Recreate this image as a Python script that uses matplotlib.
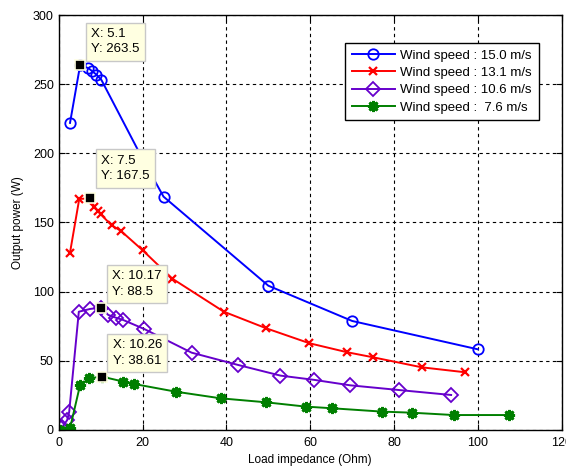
import numpy as np
import matplotlib
matplotlib.use("Agg")
import matplotlib.pyplot as plt

# load impedance (Ohm) / output power (W)
x_150 = [2.7, 5.1, 7.1, 8.0, 9.0, 10.2, 20.0, 25.0, 50.0, 70.0, 100.0]
p_150 = [222, 263.5, 261.6, 259.3, 256.9, 253, 196, 168.7, 104.3, 78.8, 58.3]

x_131 = [2.7, 4.9, 7.5, 8.5, 9.3, 10.0, 12.6, 14.8, 20.0, 27.1, 39.4, 49.5, 59.8, 68.8, 74.9, 86.6, 97.0]
p_131 = [128.2, 167, 167.5, 161.5, 158.5, 156, 148, 144, 130, 109.4, 85.5, 73.5, 62.7, 56.2, 52.6, 45.3, 41.7]

x_106 = [0.8, 2.0, 2.5, 4.8, 7.5, 10.17, 11.8, 13.6, 15.4, 20.4, 31.7, 42.8, 52.9, 61.0, 69.5, 81.1, 93.6]
p_106 = [2, 7, 13, 85.5, 87.5, 88.5, 83.2, 81.2, 79.5, 73, 55.9, 47, 39.3, 36.2, 32.3, 28.9, 25.3]

x_76 = [0.3, 2.7, 5.1, 7.3, 10.26, 15.4, 17.9, 27.9, 38.6, 49.5, 58.9, 65.2, 77.0, 84.2, 94.2, 107.5]
p_76 = [0, 1.2, 32.5, 37.4, 38.61, 35, 33.3, 27.7, 22.9, 20, 16.9, 15.7, 13.3, 12.5, 10.8, 10.8]

tip_x = [5.1, 7.5, 10.17, 10.26]
tip_y = [263.5, 167.5, 88.5, 38.61]
tip_dy = [5, 11, 5, 5]

plt.rcParams['font.family'] = ['Liberation Sans', 'DejaVu Sans']
plt.rcParams['font.size'] = 9

fig = plt.figure(figsize=(5.66, 4.66), dpi=100)
ax = fig.add_axes([0.1037, 0.0773, 0.8889, 0.8905])

ax.plot(x_150, p_150, color='#0000ff', lw=1.4, marker='o', ms=7.5, mfc='none', mew=1.3,
        label='Wind speed : 15.0 m/s')
ax.plot(x_131, p_131, color='#ff0000', lw=1.4, marker='x', ms=5.5, mew=1.6,
        label='Wind speed : 13.1 m/s')
ax.plot(x_106, p_106, color='#6600cc', lw=1.4, marker='D', ms=7, mfc='none', mew=1.3,
        label='Wind speed : 10.6 m/s')
ax.plot(x_76, p_76, color='#007f00', lw=1.4, marker=(8, 2, 0), ms=8, mew=2.0,
        label='Wind speed :  7.6 m/s')

# data tips like matlab
for tx, ty, dy in zip(tip_x, tip_y, tip_dy):
    ax.plot(tx, ty, 's', color='black', ms=7, mec='#ffffe1', mew=1.2, zorder=10)
    ax.annotate("X: %s\nY: %s" % (tx, ty), xy=(tx, ty), xytext=(11, dy + 5),
                textcoords='offset pixels', ha='left', va='bottom', fontsize=9.5,
                linespacing=1.4, zorder=11,
                bbox=dict(boxstyle='square,pad=0.4', fc='#ffffe1', ec='#c8c8c8', lw=1))

ax.set_xlim(0, 120)
ax.set_ylim(0, 300)
ax.set_xticks(np.arange(0, 121, 20))
ax.set_yticks(np.arange(0, 301, 50))
ax.grid(True, color='black', linestyle=(0, (3, 3)), linewidth=0.8)
ax.tick_params(direction='in', top=True, right=True, length=4, labelsize=9)
ax.tick_params(axis='x', pad=5)
for s in ax.spines.values():
    s.set_linewidth(1)

ax.set_xlabel("Load impedance (Ohm)", fontsize=8.5, labelpad=4)
ax.set_ylabel("Output power (W)", fontsize=8.5, labelpad=6)

leg = ax.legend(loc='upper right', bbox_to_anchor=(0.954, 0.9325), fancybox=False,
                framealpha=1, edgecolor='black', borderaxespad=0, fontsize=9.5,
                handlelength=3.3, handletextpad=0.4, labelspacing=0.38, borderpad=0.5)
leg.get_frame().set_linewidth(1)

fig.savefig('out.png', dpi=100)
